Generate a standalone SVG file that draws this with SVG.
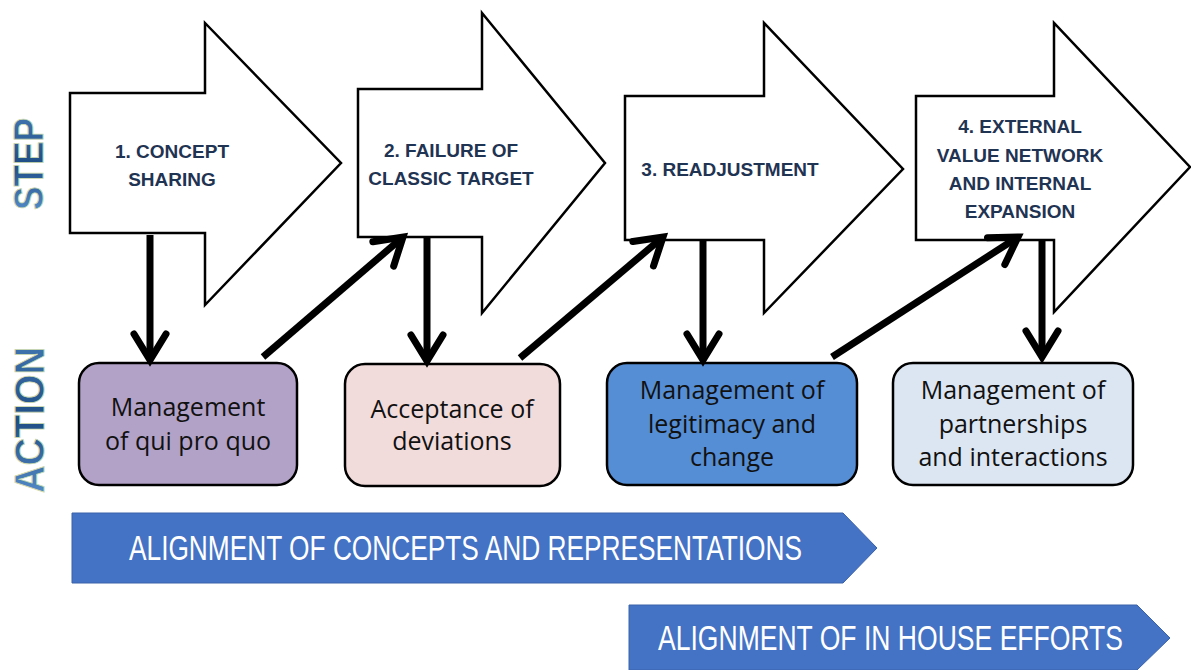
<svg xmlns="http://www.w3.org/2000/svg" width="1191" height="670" viewBox="0 0 1191 670">
<defs>
<style>
.step{fill:#ffffff;stroke:#000;stroke-width:2.5;stroke-linejoin:miter}
.stxt{font-family:"Liberation Sans",Arial,sans-serif;font-weight:bold;font-size:19px;fill:#1f3352;text-anchor:middle}
.box{stroke:#000;stroke-width:2.5}
.btxt{font-family:"Open Sans","Liberation Sans",sans-serif;font-size:25px;fill:#111;text-anchor:middle}
.con{fill:none;stroke:#000;stroke-width:7}
.banner{fill:#4472c4;stroke:#3a62aa;stroke-width:1}
.bantxt{font-family:"Liberation Sans",Arial,sans-serif;font-size:35px;fill:#fff}
.side{font-family:"Liberation Sans",Arial,sans-serif;font-weight:bold;font-size:42px;fill:url(#sideg);stroke:#cfdcae;stroke-width:0.9}
</style>
<linearGradient id="sideg" x1="0" y1="0" x2="1" y2="0">
<stop offset="0" stop-color="#5289c6"/>
<stop offset="0.5" stop-color="#1f4d84"/>
<stop offset="1" stop-color="#3f73ae"/>
</linearGradient>
<marker id="head" markerUnits="userSpaceOnUse" orient="auto" refX="0" refY="0" markerWidth="60" markerHeight="60" overflow="visible">
<path d="M-26,-16 L0,0 L-26,16" fill="none" stroke="#000" stroke-width="7" stroke-linecap="round" stroke-linejoin="miter"/>
</marker>
</defs>
<rect width="1191" height="670" fill="#ffffff"/>

<g id="label-step"><text class="side" transform="translate(43,210) rotate(-90)" textLength="92" lengthAdjust="spacingAndGlyphs">STEP</text></g>
<g id="label-action"><text class="side" transform="translate(44,493) rotate(-90)" textLength="146" lengthAdjust="spacingAndGlyphs">ACTION</text></g>

<g id="step1">
<polygon class="step" points="70,93 205,93 205,23 341,163 205,305 205,233 70,233"/>
<text class="stxt" x="172" y="158">1. CONCEPT</text>
<text class="stxt" x="172" y="186">SHARING</text>
</g>
<g id="step2">
<polygon class="step" points="358,89 482,89 482,13 605,163 482,313 482,237 358,237"/>
<text class="stxt" x="451" y="157">2. FAILURE OF</text>
<text class="stxt" x="451" y="185">CLASSIC TARGET</text>
</g>
<g id="step3">
<polygon class="step" points="625,96 764,96 764,23 903,169 764,313 764,240 625,240"/>
<text class="stxt" x="730" y="176">3. READJUSTMENT</text>
</g>
<g id="step4">
<polygon class="step" points="916,96 1054,96 1054,23 1190,167 1054,312 1054,240 916,240"/>
<text class="stxt" x="1020" y="133">4. EXTERNAL</text>
<text class="stxt" x="1020" y="162">VALUE NETWORK</text>
<text class="stxt" x="1020" y="190">AND INTERNAL</text>
<text class="stxt" x="1020" y="218">EXPANSION</text>
</g>

<g id="action1">
<rect class="box" x="79" y="363" width="218" height="122" rx="20" fill="#b3a2c7"/>
<text class="btxt" x="188" y="416">Management</text>
<text class="btxt" x="188" y="450">of qui pro quo</text>
</g>
<g id="action2">
<rect class="box" x="345" y="364" width="215" height="122" rx="20" fill="#f2dcdb"/>
<text class="btxt" x="452" y="418">Acceptance of</text>
<text class="btxt" x="452" y="450">deviations</text>
</g>
<g id="action3">
<rect class="box" x="607" y="363" width="250" height="122" rx="20" fill="#558ed5"/>
<text class="btxt" x="732" y="399">Management of</text>
<text class="btxt" x="732" y="433">legitimacy and</text>
<text class="btxt" x="732" y="466">change</text>
</g>
<g id="action4">
<rect class="box" x="893" y="363" width="240" height="122" rx="20" fill="#dce6f2"/>
<text class="btxt" x="1013" y="399">Management of</text>
<text class="btxt" x="1013" y="433">partnerships</text>
<text class="btxt" x="1013" y="466">and interactions</text>
</g>

<g id="connectors">
<path class="con" d="M150,235 L150,360" marker-end="url(#head)"/>
<path class="con" d="M427,237 L427,361" marker-end="url(#head)"/>
<path class="con" d="M703,240 L703,360" marker-end="url(#head)"/>
<path class="con" d="M1042,240 L1042,357" marker-end="url(#head)"/>
<path class="con" d="M263,357 L403,237" marker-end="url(#head)"/>
<path class="con" d="M520,358 L663,237" marker-end="url(#head)"/>
<path class="con" d="M832,357 L1018,237" marker-end="url(#head)"/>
</g>

<g id="banner1">
<polygon class="banner" points="72,513 843,513 877,548 843,583 72,583"/>
<text class="bantxt" x="129" y="560" textLength="673" lengthAdjust="spacingAndGlyphs">ALIGNMENT OF CONCEPTS AND REPRESENTATIONS</text>
</g>
<g id="banner2">
<polygon class="banner" points="629,605 1137,605 1170,638 1137,670 629,670"/>
<text class="bantxt" x="658" y="650" textLength="465" lengthAdjust="spacingAndGlyphs">ALIGNMENT OF IN HOUSE EFFORTS</text>
</g>
</svg>
